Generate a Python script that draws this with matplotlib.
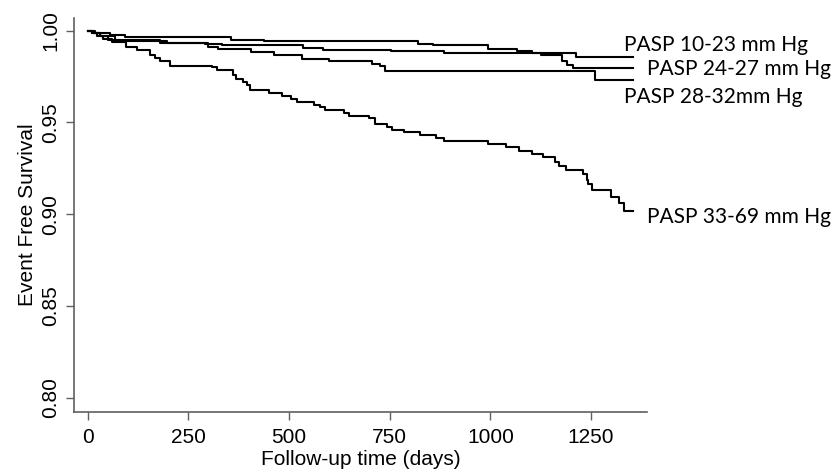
import matplotlib
matplotlib.use('Agg')
import matplotlib.pyplot as plt

# Kaplan-Meier style step data (days, survival)
t_10_23 = [0, 18, 55, 93, 356, 438, 820, 857, 994, 1066, 1103, 1213]
s_10_23 = [1.0, 0.9988, 0.9977, 0.9966, 0.9951, 0.9942, 0.9929, 0.9920, 0.9900, 0.9888, 0.9878, 0.9857]

t_24_27 = [0, 11, 31, 68, 180, 291, 334, 535, 584, 753, 885, 1126, 1178, 1190, 1205]
s_24_27 = [1.0, 0.9988, 0.9971, 0.9949, 0.9935, 0.9929, 0.9920, 0.9906, 0.9896, 0.9888, 0.9878,
           0.9866, 0.9833, 0.9815, 0.9797]

t_28_32 = [0, 11, 31, 50, 80, 197, 299, 324, 406, 463, 532, 599, 706, 726, 738, 1260]
s_28_32 = [1.0, 0.9988, 0.9971, 0.9949, 0.9944, 0.9935, 0.9913, 0.9902, 0.9884, 0.9866, 0.9847,
           0.9833, 0.9817, 0.9806, 0.9779, 0.9730]

t_33_69 = [0, 11, 23, 38, 60, 95, 122, 155, 167, 180, 204, 309, 321, 361, 368, 386, 396, 403,
           450, 482, 505, 520, 562, 577, 589, 636, 649, 698, 713, 743, 756, 786, 825, 865, 885,
           994, 1039, 1071, 1103, 1131, 1160, 1171, 1188, 1230, 1240, 1242, 1252, 1300, 1320, 1332]
s_33_69 = [1.0, 0.9987, 0.9971, 0.9955, 0.9938, 0.9913, 0.9895, 0.9867, 0.9851, 0.9835, 0.9809,
           0.9800, 0.9786, 0.9758, 0.9735, 0.9722, 0.9704, 0.9677, 0.9662, 0.9646, 0.9628, 0.9611,
           0.9597, 0.9582, 0.9569, 0.9550, 0.9537, 0.9524, 0.9491, 0.9475, 0.9459, 0.9446, 0.9433,
           0.9413, 0.9399, 0.9382, 0.9364, 0.9346, 0.9329, 0.9310, 0.9286, 0.9264, 0.9240, 0.9219,
           0.9186, 0.9162, 0.9131, 0.9095, 0.9059, 0.9017]

t_end = 1354

labels = ['PASP 10-23 mm Hg', 'PASP 24-27 mm Hg', 'PASP 28-32mm Hg', 'PASP 33-69 mm Hg']
label_x = [1332, 1389, 1332, 1389]
label_y = [0.9891, 0.9758, 0.9604, 0.8953]

xticks = [0, 250, 500, 750, 1000, 1250]
yticks = [0.80, 0.85, 0.90, 0.95, 1.00]

fig = plt.figure(figsize=(8.4, 4.75), dpi=100)
ax = fig.add_axes([0.0881, 0.1333, 0.6817, 0.8288])

for t, s in [(t_10_23, s_10_23), (t_24_27, s_24_27), (t_28_32, s_28_32), (t_33_69, s_33_69)]:
    ax.step(t + [t_end], s + [s[-1]], where='post', color='black', lw=1.5)

ax.set_xlim(-34, 1388)
ax.set_ylim(0.7924, 1.0069)

for side in ['top', 'right']:
    ax.spines[side].set_visible(False)
for side in ['left', 'bottom']:
    ax.spines[side].set_color('#606060')
    ax.spines[side].set_linewidth(1.2)

ax.set_xticks(xticks)
ax.set_xticklabels([str(v) for v in xticks], fontsize=15, family='Liberation Sans')
ax.set_yticks(yticks)
ax.set_yticklabels(['%.2f' % v for v in yticks], fontsize=15, family='Liberation Sans',
                   rotation=90, va='center')
ax.tick_params(colors='#606060', labelcolor='black', length=6, width=1.0)
ax.tick_params(axis='x', pad=6)
ax.tick_params(axis='y', pad=4)

ax.set_xlabel('Follow-up time (days)', fontsize=15, family='Liberation Sans', labelpad=2)
ax.set_ylabel('Event Free Survival', fontsize=15, family='Liberation Sans', labelpad=3)

for lab, x, y in zip(labels, label_x, label_y):
    ax.text(x, y, lab, fontsize=15, family='Lato', va='baseline', ha='left', clip_on=False)

fig.savefig('out.png', dpi=100)
